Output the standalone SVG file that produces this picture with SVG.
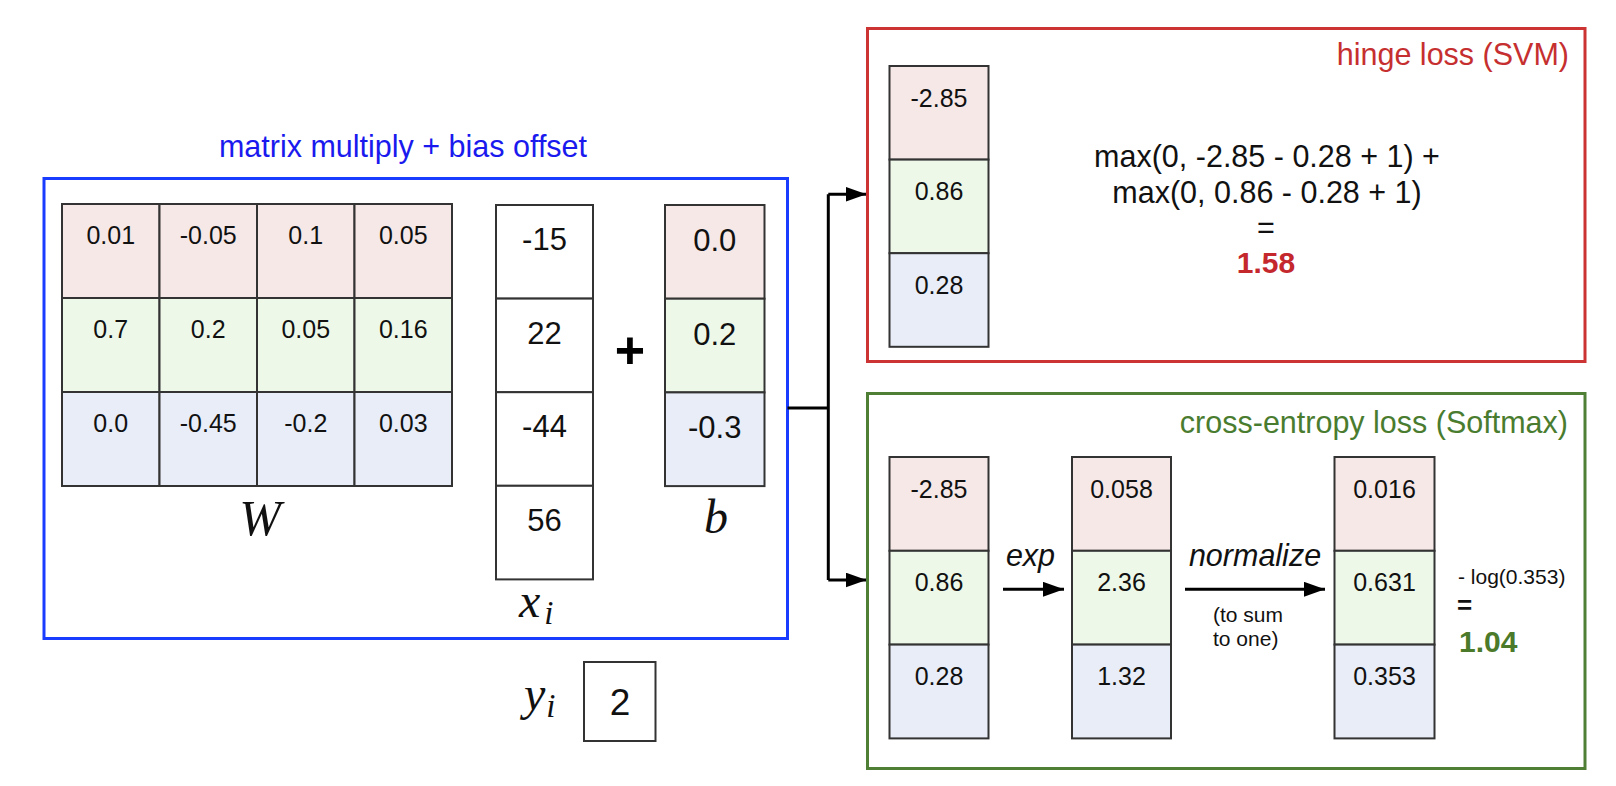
<svg xmlns="http://www.w3.org/2000/svg" width="1616" height="786" viewBox="0 0 1616 786">
<style>
  .bg{fill:#ffffff}
  .cell{stroke:#333333;stroke-width:2}
  .r{fill:#f6e8e7}
  .g{fill:#eef8e9}
  .b{fill:#e8edf8}
  .w{fill:#ffffff}
  .t{font-family:"Liberation Sans",Arial,sans-serif;fill:#111111;text-anchor:middle}
  .sm{font-size:25px}
  .lg{font-size:31px}
  .math{font-family:"Liberation Serif","Times New Roman",serif;font-style:italic;fill:#111111}
  .conn{fill:none;stroke:#000000;stroke-width:3}
  .hdr{font-family:"Liberation Sans",Arial,sans-serif;font-size:30.5px}
</style>
<defs>
  <marker id="ah" markerUnits="userSpaceOnUse" markerWidth="21" markerHeight="15" refX="21" refY="7.5" orient="auto">
    <path d="M0,0 L21,7.5 L0,15 Z" fill="#000000"/>
  </marker>
</defs>
<rect class="bg" x="0" y="0" width="1616" height="786"/>

<g id="score-box">
  <text class="hdr" x="403" y="157" text-anchor="middle" fill="#1a1aee">matrix multiply + bias offset</text>
  <rect x="44" y="178.5" width="743.5" height="460" fill="none" stroke="#1a3cff" stroke-width="3"/>
</g>

<g id="W">
  <rect class="cell r" x="62" y="204" width="97.5" height="94"/>
  <rect class="cell r" x="159.5" y="204" width="97.5" height="94"/>
  <rect class="cell r" x="257" y="204" width="97.5" height="94"/>
  <rect class="cell r" x="354.5" y="204" width="97.5" height="94"/>
  <rect class="cell g" x="62" y="298" width="97.5" height="94"/>
  <rect class="cell g" x="159.5" y="298" width="97.5" height="94"/>
  <rect class="cell g" x="257" y="298" width="97.5" height="94"/>
  <rect class="cell g" x="354.5" y="298" width="97.5" height="94"/>
  <rect class="cell b" x="62" y="392" width="97.5" height="94"/>
  <rect class="cell b" x="159.5" y="392" width="97.5" height="94"/>
  <rect class="cell b" x="257" y="392" width="97.5" height="94"/>
  <rect class="cell b" x="354.5" y="392" width="97.5" height="94"/>
  <text class="t sm" x="110.75" y="244">0.01</text>
  <text class="t sm" x="208.25" y="244">-0.05</text>
  <text class="t sm" x="305.75" y="244">0.1</text>
  <text class="t sm" x="403.25" y="244">0.05</text>
  <text class="t sm" x="110.75" y="338">0.7</text>
  <text class="t sm" x="208.25" y="338">0.2</text>
  <text class="t sm" x="305.75" y="338">0.05</text>
  <text class="t sm" x="403.25" y="338">0.16</text>
  <text class="t sm" x="110.75" y="432">0.0</text>
  <text class="t sm" x="208.25" y="432">-0.45</text>
  <text class="t sm" x="305.75" y="432">-0.2</text>
  <text class="t sm" x="403.25" y="432">0.03</text>
  <text class="math" x="260" y="535" font-size="50" text-anchor="middle">W</text>
</g>

<g id="x">
  <rect class="cell w" x="496" y="205" width="97" height="93.6"/>
  <rect class="cell w" x="496" y="298.6" width="97" height="93.6"/>
  <rect class="cell w" x="496" y="392.2" width="97" height="93.6"/>
  <rect class="cell w" x="496" y="485.8" width="97" height="93.6"/>
  <text class="t lg" x="544.5" y="250">-15</text>
  <text class="t lg" x="544.5" y="343.5">22</text>
  <text class="t lg" x="544.5" y="437">-44</text>
  <text class="t lg" x="544.5" y="530.5">56</text>
  <text class="math" x="519" y="617" font-size="48">x<tspan font-size="33" dx="4" dy="7">i</tspan></text>
</g>

<g id="plus">
  <text x="630" y="368" font-family="'Liberation Sans',Arial,sans-serif" font-size="52" font-weight="bold" text-anchor="middle" fill="#000000">+</text>
</g>

<g id="b">
  <rect class="cell r" x="665" y="205" width="99.5" height="93.7"/>
  <rect class="cell g" x="665" y="298.7" width="99.5" height="93.7"/>
  <rect class="cell b" x="665" y="392.4" width="99.5" height="93.7"/>
  <text class="t lg" x="714.75" y="250.5">0.0</text>
  <text class="t lg" x="714.75" y="344.5">0.2</text>
  <text class="t lg" x="714.75" y="438">-0.3</text>
  <text class="math" x="716" y="533" font-size="48" text-anchor="middle">b</text>
</g>

<g id="y">
  <text class="math" x="524" y="710" font-size="48">y<tspan font-size="33" dx="1" dy="7">i</tspan></text>
  <rect class="cell w" x="584" y="662" width="71.5" height="79"/>
  <text class="t" x="620" y="715" font-size="37">2</text>
</g>

<g id="connectors">
  <polyline class="conn" points="787.5,408 828.3,408"/>
  <polyline class="conn" points="828.3,194.3 828.3,580"/>
  <line class="conn" x1="828.3" y1="194.3" x2="866.5" y2="194.3" marker-end="url(#ah)"/>
  <line class="conn" x1="828.3" y1="580" x2="866.5" y2="580" marker-end="url(#ah)"/>
  <line class="conn" x1="1003" y1="589.3" x2="1064" y2="589.3" marker-end="url(#ah)"/>
  <line class="conn" x1="1185" y1="589.3" x2="1325" y2="589.3" marker-end="url(#ah)"/>
</g>

<g id="hinge">
  <rect x="867.5" y="28.5" width="717.5" height="333" fill="none" stroke="#cc3333" stroke-width="3"/>
  <text class="hdr" x="1569" y="64.5" text-anchor="end" fill="#c62f2f">hinge loss (SVM)</text>
  <rect class="cell r" x="889.5" y="66" width="99" height="93.6"/>
  <rect class="cell g" x="889.5" y="159.6" width="99" height="93.6"/>
  <rect class="cell b" x="889.5" y="253.2" width="99" height="93.6"/>
  <text class="t sm" x="939" y="106.5">-2.85</text>
  <text class="t sm" x="939" y="200">0.86</text>
  <text class="t sm" x="939" y="293.5">0.28</text>
  <text class="t" font-size="30.5" x="1267" y="167">max(0, -2.85 - 0.28 + 1) +</text>
  <text class="t" font-size="30.5" x="1267" y="203">max(0, 0.86 - 0.28 + 1)</text>
  <text class="t" font-size="30.5" x="1266" y="238">=</text>
  <text class="t" font-size="30" font-weight="bold" x="1266" y="273" style="fill:#c4282d">1.58</text>
</g>

<g id="softmax">
  <rect x="867.5" y="393.5" width="717.5" height="375" fill="none" stroke="#4f7f35" stroke-width="3"/>
  <text class="hdr" x="1568" y="433" text-anchor="end" fill="#4a7c2f">cross-entropy loss (Softmax)</text>
  <rect class="cell r" x="889.5" y="457" width="99" height="93.8"/>
  <rect class="cell g" x="889.5" y="550.8" width="99" height="93.8"/>
  <rect class="cell b" x="889.5" y="644.6" width="99" height="93.8"/>
  <text class="t sm" x="939" y="497.5">-2.85</text>
  <text class="t sm" x="939" y="591.3">0.86</text>
  <text class="t sm" x="939" y="685">0.28</text>
  <rect class="cell r" x="1072" y="457" width="99" height="93.8"/>
  <rect class="cell g" x="1072" y="550.8" width="99" height="93.8"/>
  <rect class="cell b" x="1072" y="644.6" width="99" height="93.8"/>
  <text class="t sm" x="1121.5" y="497.5">0.058</text>
  <text class="t sm" x="1121.5" y="591.3">2.36</text>
  <text class="t sm" x="1121.5" y="685">1.32</text>
  <rect class="cell r" x="1334.5" y="457" width="100" height="93.8"/>
  <rect class="cell g" x="1334.5" y="550.8" width="100" height="93.8"/>
  <rect class="cell b" x="1334.5" y="644.6" width="100" height="93.8"/>
  <text class="t sm" x="1384.5" y="497.5">0.016</text>
  <text class="t sm" x="1384.5" y="591.3">0.631</text>
  <text class="t sm" x="1384.5" y="685">0.353</text>
  <text class="t" font-size="30.5" font-style="italic" x="1030.5" y="566">exp</text>
  <text class="t" font-size="30.5" font-style="italic" x="1255" y="566">normalize</text>
  <text class="t" font-size="21" x="1213" y="622" style="text-anchor:start">(to sum</text>
  <text class="t" font-size="21" x="1213" y="645.5" style="text-anchor:start">to one)</text>
  <text class="t" font-size="21" x="1458" y="583.5" style="text-anchor:start">- log(0.353)</text>
  <text class="t" font-size="26" font-weight="bold" x="1457" y="614" style="text-anchor:start">=</text>
  <text class="t" font-size="30" font-weight="bold" x="1459" y="651.5" style="text-anchor:start;fill:#4b7a2a">1.04</text>
</g>
</svg>
